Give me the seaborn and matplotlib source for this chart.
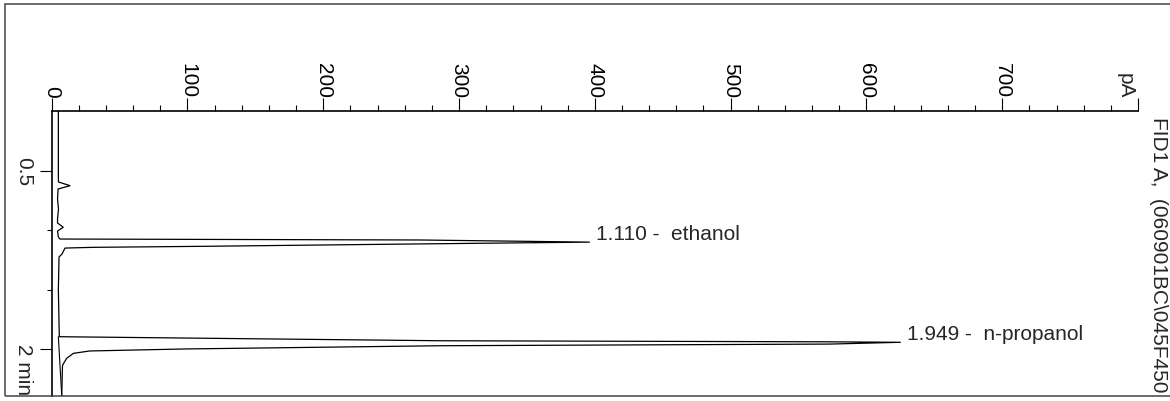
import matplotlib
matplotlib.use("Agg")
import matplotlib.pyplot as plt
from matplotlib.patches import Rectangle
import numpy as np
import seaborn as sns

sns.set_style("white")
plt.rcParams["font.family"] = ["Liberation Sans", "DejaVu Sans"]

# FID1 A trace (time in min, signal in pA)
time_min = [0.000, 0.553, 0.595, 0.626, 0.654, 0.738, 0.822, 0.906, 0.940, 0.976, 1.008, 1.058,
            1.075, 1.083, 1.101, 1.118, 1.136, 1.145, 1.151, 1.201, 1.226, 1.500,
            1.897, 1.931, 1.940, 1.944, 1.959, 1.973, 2.000, 2.017, 2.037, 2.079, 2.135, 2.152, 2.396]
signal_pA = [4.9, 4.9, 5.0, 13.5, 4.7, 4.3, 5.0, 4.3, 4.3, 8.5, 4.3, 4.9,
             6.0, 271, 396, 256, 114, 30, 9.8, 7.6, 5.4, 4.9,
             5.6, 286, 573, 625, 573, 286, 99, 28, 16, 11, 8.1, 7.9, 7.4]

# integration baseline drawn under n-propanol
baseline_time = [1.897, 2.396]
baseline_pA = [4.9, 7.4]

# peak annotations
peak_names = ["ethanol", "n-propanol"]
peak_rt = [1.110, 1.949]
peak_tip_time = [1.101, 1.944]
peak_tip_pA = [396, 625]

pa_ticks = [0, 100, 200, 300, 400, 500, 600, 700, 800]
pa_tick_labels = ["0", "100", "200", "300", "400", "500", "600", "700", ""]
time_major = [0.5, 2.0]
time_major_labels = ["0.5", "2 min"]
time_minor = [1.0, 1.5]

W, H = 1170, 402
fig = plt.figure(figsize=(W / 100, H / 100), dpi=100)
ax = fig.add_axes([51.7 / W, 5 / H, (1138 - 51.7) / W, (397 - 111.7) / H])

sns.lineplot(x=signal_pA, y=time_min, sort=False, estimator=None,
             color="black", linewidth=0.9, ax=ax)
sns.lineplot(x=baseline_pA, y=baseline_time, sort=False, estimator=None,
             color="black", linewidth=0.8, ax=ax)

ax.set_xlim(0, 800)
ax.set_ylim(2.396, -0.005)

# signal axis on top, rotated labels like the printout
ax.xaxis.tick_top()
ax.set_xticks(pa_ticks)
ax.set_xticklabels(pa_tick_labels)
ax.set_xticks(np.arange(0, 801, 20), minor=True)
ax.tick_params(axis="x", which="major", top=True, bottom=False, direction="out",
               length=9.5, width=0.8, pad=0.5, labelsize=15, labelrotation=270,
               colors="black")
ax.tick_params(axis="x", which="minor", top=True, bottom=False, direction="out",
               length=4, width=0.8, colors="black")

ax.set_yticks(time_major)
ax.set_yticklabels([])
ax.set_yticks(time_minor, minor=True)
ax.tick_params(axis="y", which="major", left=True, direction="out", length=9, width=0.8,
               colors="black")
ax.tick_params(axis="y", which="minor", left=True, direction="out", length=3.6, width=0.8,
               colors="black")
ax.set_xlabel("")
ax.set_ylabel("")

for side in ["right", "bottom"]:
    ax.spines[side].set_visible(False)
for side in ["top", "left"]:
    ax.spines[side].set_color("black")
    ax.spines[side].set_linewidth(1.2)

# time labels on the left
ax.annotate(time_major_labels[0], xy=(0, time_major[0]), xycoords=("axes fraction", "data"),
            xytext=(-28, 0), textcoords="offset pixels", rotation=270,
            ha="center", va="center", fontsize=15, annotation_clip=False)
ax.annotate(time_major_labels[1], xy=(0, time_major[1]), xycoords=("axes fraction", "data"),
            xytext=(-28, 6), textcoords="offset pixels", rotation=270, rotation_mode="anchor",
            ha="left", va="center", fontsize=15, annotation_clip=False)

# unit label at the end of the signal axis
ax.annotate("pA", xy=(800, 1), xycoords=("data", "axes fraction"), xytext=(-3, 13),
            textcoords="offset pixels", rotation=270, ha="right", va="bottom",
            fontsize=15, annotation_clip=False)

for name, rt, t, s in zip(peak_names, peak_rt, peak_tip_time, peak_tip_pA):
    ax.annotate(f"{rt:.3f} -  {name}", xy=(s, t), xytext=(7, 3), textcoords="offset pixels",
                ha="left", va="baseline", fontsize=15, annotation_clip=False)

fig.text(1149 / W, 1 - 117 / H, "FID1 A,  (060901BC\\045F450", rotation=270,
         ha="left", va="top", fontsize=15)

# page frame of the scan
fig.add_artist(Rectangle((5 / W, 5 / H), 1.2, (397 - 5) / H, transform=fig.transFigure,
                         fill=False, edgecolor="#444444", linewidth=1.1))

fig.savefig("out.png", dpi=100)
